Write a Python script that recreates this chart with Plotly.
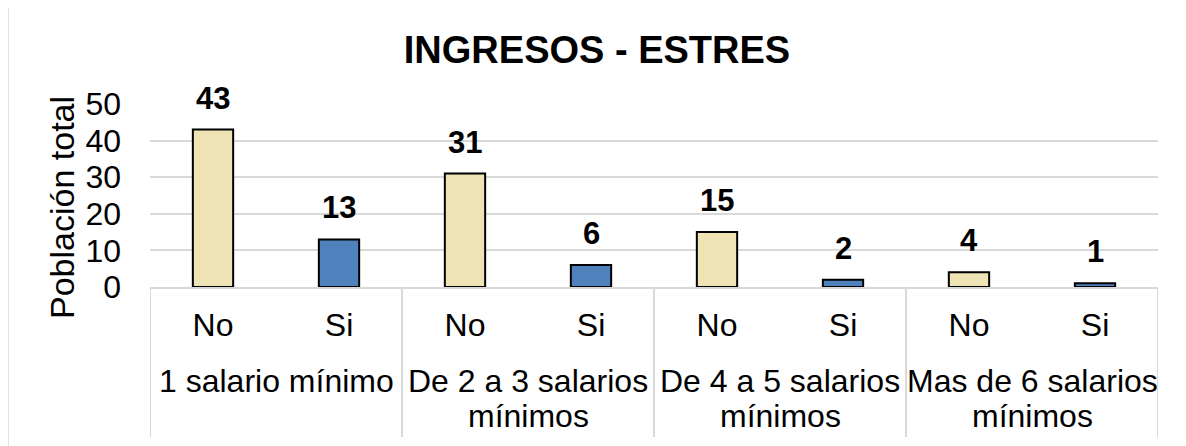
import plotly.graph_objects as go

grupos = ["1 salario mínimo", "De 2 a 3 salarios<br>mínimos",
          "De 4 a 5 salarios<br>mínimos", "Mas de 6 salarios<br>mínimos"]
estres = ["No", "Si"]
valores_no = [43, 31, 15, 4]
valores_si = [13, 6, 2, 1]

colores = {"No": "#EEE3B5", "Si": "#4F81BD"}

x_pos, x_lab, y_vals = [], [], []
for i, (n, s) in enumerate(zip(valores_no, valores_si)):
    x_pos += [2 * i, 2 * i + 1]
    x_lab += estres
    y_vals += [n, s]

# page pixel -> paper coords (plot area 150..1158 x, 287..104 y on the page)
def px(x):
    return (x - 150) / 1008

def py(y):
    return (287 - y) / 183

fig = go.Figure(go.Bar(
    x=x_pos, y=y_vals,
    marker=dict(color=[colores[e] for e in x_lab],
                line=dict(color="#000000", width=2)),
    width=0.32,
    cliponaxis=False,
))

shapes = [dict(type="rect", xref="paper", yref="paper",
               x0=px(8), x1=px(1185), y0=py(470), y1=py(5),
               line=dict(color="#D9D9D9", width=1.5), layer="below")]
for k in range(len(grupos) + 1):
    shapes.append(dict(type="line", xref="x", yref="paper",
                       x0=2 * k - 0.5, x1=2 * k - 0.5, y0=0, y1=py(437),
                       line=dict(color="#D9D9D9", width=2)))

annotations = []
# etiquetas de datos
for xv, yv in zip(x_pos, y_vals):
    annotations.append(dict(x=xv, y=yv, xref="x", yref="y", yanchor="bottom",
                            yshift=12, text=f"<b>{yv}</b>", showarrow=False,
                            font=dict(size=31, color="#000000")))
# etiquetas de grupo
for i, g in enumerate(grupos):
    for j, linea in enumerate(g.split("<br>")):
        annotations.append(dict(x=2 * i + 0.5, xref="x", yref="paper",
                                y=py(381 + 35 * j), yanchor="middle",
                                text=linea, showarrow=False,
                                font=dict(size=32, color="#000000")))
# titulo eje y
annotations.append(dict(x=px(62), y=py(208), xref="paper", yref="paper",
                        text="Población total", textangle=-90, showarrow=False,
                        xanchor="center", yanchor="middle",
                        font=dict(size=34, color="#000000")))

fig.update_layout(
    width=1178, height=438,
    paper_bgcolor="white", plot_bgcolor="white",
    font=dict(family="Liberation Sans, Arial", color="#000000"),
    margin=dict(l=142, r=28, t=96, b=159, autoexpand=False),
    title=dict(text="<b>INGRESOS - ESTRES</b>", x=0.5, xanchor="center",
               y=1 - 42 / 438, yanchor="middle",
               font=dict(size=38, color="#000000")),
    yaxis=dict(range=[0, 50], dtick=10, showgrid=True, gridcolor="#D9D9D9",
               gridwidth=2, zeroline=False, showline=False,
               tickfont=dict(size=32), ticklabelstandoff=28),
    xaxis=dict(range=[-0.5, 7.5], tickvals=x_pos, ticktext=x_lab,
               showgrid=False, showline=True, linecolor="#D9D9D9", linewidth=2,
               tickfont=dict(size=32), ticklabelstandoff=9),
    showlegend=False,
    shapes=shapes,
    annotations=annotations,
)

fig.write_html("out.html")
